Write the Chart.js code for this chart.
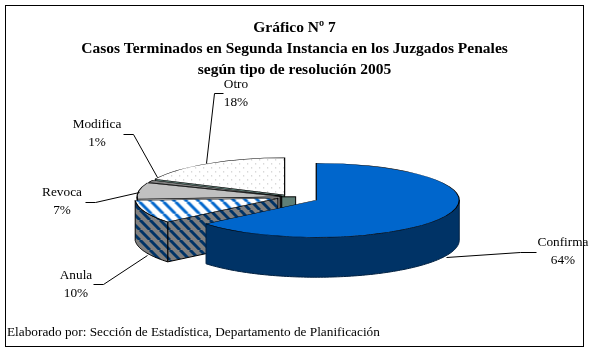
<!DOCTYPE html>
<html>
<head>
<meta charset="utf-8">
<title>Gráfico Nº 7</title>
<script src="https://cdn.jsdelivr.net/npm/chart.js@4"></script>
<style>
  html, body { margin: 0; padding: 0; background: #fff; }
  canvas { display: block; }
</style>
</head>
<body>
<canvas id="pieChart" width="589" height="352"></canvas>
<script>
const titleLines = ["Gráfico Nº 7", "Casos Terminados en Segunda Instancia en los Juzgados Penales", "según tipo de resolución 2005"];
const footer = "Elaborado por: Sección de Estadística, Departamento de Planificación";
const categories = ["Confirma", "Anula", "Revoca", "Modifica", "Otro"];
const values = [64, 10, 7, 1, 18];
// how far each slice is pulled out of the pie
const explode = [29, 13, 10, 9, 10];
const labelPos = [[563, 243], [76, 276], [62, 193], [97, 125], [236, 85]];
const leaders = [
  [[446, 257], [520, 252], [536, 252]],
  [[93, 284], [103, 284], [147, 255]],
  [[85, 202], [95, 202], [139, 192]],
  [[123, 134], [133, 134], [157, 177]],
  [[223, 93], [214, 93], [206, 163]]
];

// 3d look of the pie
const squash = 0.259;
const depth = 40;
const center = {x: 290, y: 197};

const ctx = document.getElementById("pieChart").getContext('2d');

function stripes(bg, fg, size, width) {
  const c = document.createElement('canvas');
  c.width = size; c.height = size;
  const g = c.getContext('2d');
  g.fillStyle = bg;
  g.fillRect(0, 0, size, size);
  g.strokeStyle = fg;
  g.lineWidth = width;
  for (let i = -size; i <= size * 2; i += size) {
    g.beginPath();
    g.moveTo(i, 0);
    g.lineTo(i + size, size);
    g.stroke();
  }
  return ctx.createPattern(c, 'repeat');
}

function dots(bg, fg) {
  const c = document.createElement('canvas');
  c.width = 8; c.height = 8;
  const g = c.getContext('2d');
  g.fillStyle = bg;
  g.fillRect(0, 0, 8, 8);
  g.fillStyle = fg;
  g.fillRect(1, 1, 1, 1);
  g.fillRect(5, 5, 1, 1);
  return ctx.createPattern(c, 'repeat');
}

// the top faces are drawn squashed, undo it so the fill keeps its shape
function flat(pattern) {
  pattern.setTransform(new DOMMatrix().scale(1, 1 / squash));
  return pattern;
}

const topFill = [
  "#0066CC",
  flat(stripes("#FFFFFF", "#0066CC", 12, 3)),
  "#C0C0C0",
  "#808080",
  flat(dots("#FFFFFF", "#B4B4B4"))
];
const sideFill = ["#003366", stripes("#808080", "#003366", 10, 3), "#969696", "#222222", "#5F7F77"];

function apexOf(arc, i) {
  const mid = (arc.startAngle + arc.endAngle) / 2;
  return {
    x: center.x + explode[i] * Math.cos(mid),
    y: center.y + explode[i] * Math.sin(mid) * squash
  };
}

function wallPath(c, pts) {
  c.beginPath();
  pts.forEach((p, n) => n ? c.lineTo(p[0], p[1]) : c.moveTo(p[0], p[1]));
  pts.slice().reverse().forEach(p => c.lineTo(p[0], p[1] + depth));
  c.closePath();
}

function drawWalls(c, arc, i) {
  const apex = apexOf(arc, i);
  const r = arc.outerRadius;
  const at = a => [apex.x + r * Math.cos(a), apex.y + r * squash * Math.sin(a)];
  c.fillStyle = sideFill[i];
  c.strokeStyle = i === 0 ? "#002040" : "#000";
  c.lineWidth = 1;

  // cut faces, skip the ones turned away from the viewer
  if (Math.cos(arc.startAngle) < -0.001) {
    wallPath(c, [[apex.x, apex.y], at(arc.startAngle)]);
    c.fill();
    c.stroke();
  }
  if (Math.cos(arc.endAngle) > 0.001) {
    wallPath(c, [[apex.x, apex.y], at(arc.endAngle)]);
    c.fill();
    c.stroke();
  }

  // curved outside, only the front half can be seen
  const from = Math.max(arc.startAngle, 0);
  const to = Math.min(arc.endAngle, Math.PI);
  if (to > from) {
    const pts = [];
    for (let a = from; a < to; a += 0.02) pts.push(at(a));
    pts.push(at(to));
    wallPath(c, pts);
    c.fill();
    c.stroke();
  }
}

const pie3d = {
  id: 'pie3d',
  beforeDatasetDraw(chart) {
    const c = chart.ctx;
    const arcs = chart.getDatasetMeta(0).data;
    // back slices first
    [4, 3, 2, 1, 0].forEach(i => {
      const arc = arcs[i];
      const apex = apexOf(arc, i);
      drawWalls(c, arc, i);
      if (i === 4) {
        c.fillStyle = sideFill[4];
        c.fillRect(apex.x - 4, apex.y + 2, 15, 11);
        c.strokeStyle = "#000";
        c.strokeRect(apex.x - 4, apex.y + 2, 15, 11);
      }
      c.save();
      c.translate(apex.x, apex.y);
      c.scale(1, squash);
      c.translate(-arc.x, -arc.y);
      arc.draw(c);
      c.restore();
    });
    return false;
  },
  afterDraw(chart) {
    const c = chart.ctx;
    const sum = values.reduce((a, b) => a + b, 0);
    c.save();
    c.strokeStyle = "#000";
    c.lineWidth = 1;
    c.strokeRect(5.5, 5.5, 578, 341);

    leaders.forEach(line => {
      c.beginPath();
      line.forEach((p, n) => n ? c.lineTo(p[0] + .5, p[1] + .5) : c.moveTo(p[0] + .5, p[1] + .5));
      c.stroke();
    });

    c.fillStyle = "#000";
    c.font = "13.3px 'Liberation Serif'";
    c.textBaseline = "middle";
    c.textAlign = "center";
    categories.forEach((name, i) => {
      c.fillText(name, labelPos[i][0], labelPos[i][1]);
      c.fillText(Math.round(values[i] * 100 / sum) + "%", labelPos[i][0], labelPos[i][1] + 18);
    });
    c.textAlign = "left";
    c.fillText(footer, 7, 333);
    c.restore();
  }
};

var myChart = new Chart(ctx, {
  type: 'pie',
  data: {
    labels: categories,
    datasets: [{
      data: values,
      backgroundColor: topFill,
      borderColor: "#000",
      borderWidth: 1.2,
      borderJoinStyle: 'miter',
      radius: 143
    }]
  },
  options: {
    responsive: false,
    animation: false,
    events: [],
    layout: {padding: {top: 8}},
    plugins: {
      legend: {display: false},
      tooltip: {enabled: false},
      title: {
        display: true,
        text: titleLines,
        color: "#000",
        padding: {top: 9, bottom: 4},
        font: {family: "'Liberation Serif'", size: 15.5, weight: 'bold', lineHeight: 1.36}
      }
    }
  },
  plugins: [pie3d]
});
</script>
</body>
</html>
